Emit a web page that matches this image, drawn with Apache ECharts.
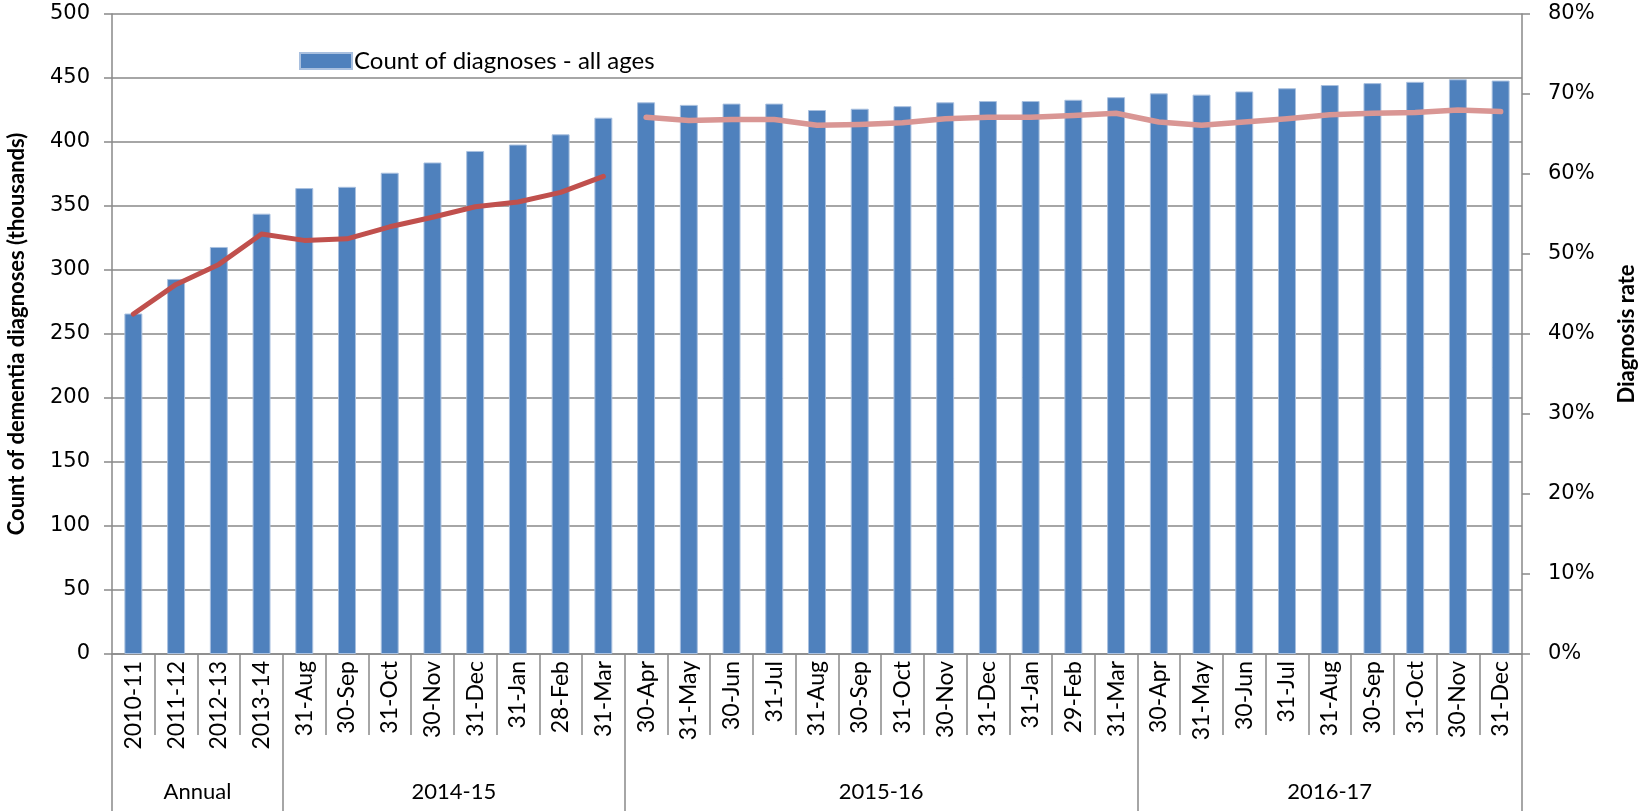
<!DOCTYPE html>
<html>
<head>
<meta charset="utf-8">
<script src="https://cdn.jsdelivr.net/npm/echarts@6/dist/echarts.min.js"></script>
<style>
html,body{margin:0;padding:0;background:#fff;}
#chart{width:1641px;height:811px;}
</style>
</head>
<body>
<div id="chart"></div>
<script>
// ---- data ----
var categories = [
  '2010-11','2011-12','2012-13','2013-14',
  '31-Aug','30-Sep','31-Oct','30-Nov','31-Dec','31-Jan','28-Feb','31-Mar',
  '30-Apr','31-May','30-Jun','31-Jul','31-Aug','30-Sep','31-Oct','30-Nov','31-Dec','31-Jan','29-Feb','31-Mar',
  '30-Apr','31-May','30-Jun','31-Jul','31-Aug','30-Sep','31-Oct','30-Nov','31-Dec'
];
var groupNames = ['Annual', '2014-15', '2015-16', '2016-17'];
var groupSizes = [4, 8, 12, 9];

// Count of diagnoses - all ages (thousands)
var diagnosesCount = [
  266, 293, 318, 344,
  364, 365, 376, 384, 393, 398, 406, 419,
  431, 429, 430, 430, 425, 426, 428, 431, 432, 432, 433, 435,
  438, 437, 439.5, 442, 444.5, 446, 447, 449, 448
];
// Diagnosis rate (fraction), up to 31-Mar 2015
var rateEarly = [
  0.425, 0.462, 0.487, 0.525,
  0.517, 0.519, 0.534, 0.546, 0.559, 0.565, 0.577, 0.597
];
// Diagnosis rate (fraction), from 30-Apr 2015
var rateLater = [
  0.671, 0.667, 0.668, 0.668, 0.661, 0.662, 0.664, 0.669, 0.671, 0.671, 0.673, 0.676,
  0.665, 0.661, 0.665, 0.669, 0.674, 0.676, 0.677, 0.680, 0.678
];
var leftTicks = {min: 0, max: 500, interval: 50};
var rightTicks = {min: 0, max: 0.8, interval: 0.1};

// ---- build ----
var redLine = categories.map(function (c, i) { return i < rateEarly.length ? rateEarly[i] : null; });
var pinkLine = categories.map(function (c, i) { return i >= rateEarly.length ? rateLater[i - rateEarly.length] : null; });

// group axis: half-category slots (boundaryGap false) so labels sit at group centres
var nSlots = categories.length * 2;
var groupSlots = [];
for (var k = 0; k <= nSlots; k++) groupSlots.push('');
var groupBoundaries = {0: true};
var start = 0;
groupNames.forEach(function (g, gi) {
  groupSlots[start * 2 + groupSizes[gi]] = g;
  start += groupSizes[gi];
  groupBoundaries[start * 2] = true;
});

var gridCol = '#898989';
var numFont = 'DejaVu Sans';
var txtFont = 'Lato';

var chart = echarts.init(document.getElementById('chart'), null, {renderer: 'canvas'});
chart.setOption({
  backgroundColor: '#fff',
  animation: false,
  textStyle: {fontFamily: txtFont},
  legend: {
    data: ['Count of diagnoses - all ages'],
    left: 294, top: 44,
    itemWidth: 52, itemHeight: 16, itemGap: 10,
    icon: 'rect',
    textStyle: {fontFamily: txtFont, fontSize: 24, color: '#000', padding: [0, 0, 0, -3]}
  },
  grid: {left: 112, right: 119, top: 14, bottom: 157, containLabel: false, outerBoundsMode: 'none'},
  xAxis: [
    {
      type: 'category',
      data: categories,
      position: 'bottom',
      boundaryGap: true,
      axisLine: {show: true, lineStyle: {color: gridCol, width: 1.5}},
      axisTick: {show: true, interval: 0, length: 81, alignWithLabel: false, lineStyle: {color: gridCol, width: 1.5}},
      axisLabel: {interval: 0, rotate: 90, margin: 7, fontFamily: txtFont, fontSize: 23, color: '#000'},
      splitLine: {show: false}
    },
    {
      type: 'category',
      data: groupSlots,
      position: 'bottom',
      boundaryGap: false,
      axisLine: {show: false},
      axisTick: {show: true, length: 160, interval: function (idx) { return !!groupBoundaries[idx]; }, lineStyle: {color: gridCol, width: 1.5}},
      axisLabel: {interval: 0, margin: 127, fontFamily: txtFont, fontSize: 22, color: '#000'},
      splitLine: {show: false}
    }
  ],
  yAxis: [
    {
      type: 'value',
      min: leftTicks.min, max: leftTicks.max, interval: leftTicks.interval,
      name: 'Count of dementia diagnoses (thousands)',
      nameLocation: 'middle', nameRotate: 90, nameGap: 84,
      nameTextStyle: {fontFamily: txtFont, fontWeight: 'bold', fontSize: 22, color: '#000'},
      axisLine: {show: true, lineStyle: {color: gridCol, width: 1.5}},
      axisTick: {show: true, inside: false, length: 8, lineStyle: {color: gridCol, width: 1.5}},
      axisLabel: {margin: 22, fontFamily: numFont, fontSize: 21, color: '#000'},
      splitLine: {show: true, lineStyle: {color: gridCol, width: 1.5}}
    },
    {
      type: 'value',
      position: 'right',
      min: rightTicks.min, max: rightTicks.max, interval: rightTicks.interval,
      name: 'Diagnosis rate',
      nameLocation: 'middle', nameRotate: 90, nameGap: 94,
      nameTextStyle: {fontFamily: txtFont, fontWeight: 'bold', fontSize: 22, color: '#000'},
      axisLine: {show: true, lineStyle: {color: gridCol, width: 1.5}},
      axisTick: {show: true, inside: false, length: 8, lineStyle: {color: gridCol, width: 1.5}},
      axisLabel: {margin: 26, fontFamily: numFont, fontSize: 21, color: '#000',
        formatter: function (v) { return Math.round(v * 100) + '%'; }},
      splitLine: {show: false}
    }
  ],
  series: [
    {
      name: 'Count of diagnoses - all ages',
      type: 'bar',
      xAxisIndex: 0, yAxisIndex: 0,
      data: diagnosesCount,
      barWidth: '42%',
      itemStyle: {color: '#4F81BD', borderColor: '#A9C0DF', borderWidth: 1}
    },
    {
      name: 'Diagnosis rate (to Mar 2015)',
      type: 'line',
      xAxisIndex: 0, yAxisIndex: 1,
      data: redLine,
      showSymbol: false, symbol: 'none',
      connectNulls: false,
      lineStyle: {color: '#C0504D', width: 5, cap: 'round', join: 'round'},
      itemStyle: {color: '#C0504D'},
      z: 3
    },
    {
      name: 'Diagnosis rate (from Apr 2015)',
      type: 'line',
      xAxisIndex: 0, yAxisIndex: 1,
      data: pinkLine,
      showSymbol: false, symbol: 'none',
      connectNulls: false,
      lineStyle: {color: '#D99694', width: 5.5, cap: 'round', join: 'round'},
      itemStyle: {color: '#D99694'},
      z: 3
    }
  ]
});
</script>
</body>
</html>
